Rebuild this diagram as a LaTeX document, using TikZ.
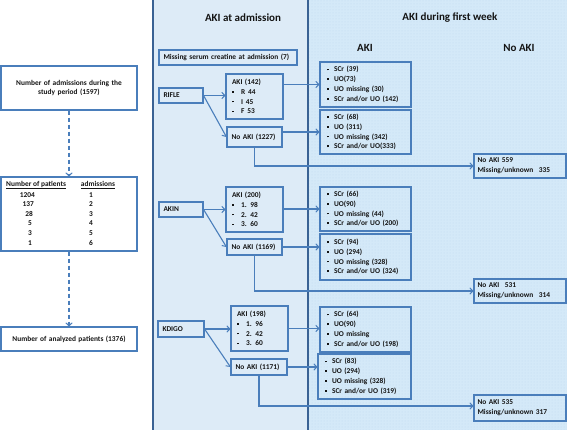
\documentclass[tikz,border=0pt]{standalone}
\usepackage{fontspec}
\setmainfont{Carlito}
\usetikzlibrary{arrows.meta,patterns}
\definecolor{bc}{RGB}{74,126,187}
\definecolor{pl}{RGB}{58,98,148}
\definecolor{lp}{RGB}{221,235,247}
\definecolor{rp}{RGB}{212,233,248}
\definecolor{dotc}{RGB}{192,220,240}
\definecolor{tx}{RGB}{20,20,20}
\newcommand{\mybul}{\makebox[7pt][l]{\rule[1.7pt]{1.7pt}{1.7pt}}}
\newcommand{\mybulb}{\makebox[9pt][l]{\rule[1.7pt]{1.7pt}{1.7pt}}}
\begin{document}
\begin{tikzpicture}[x=1pt,y=-1pt,
  box/.style={draw=bc, line width=1.1pt, inner xsep=6pt, inner ysep=0pt, align=left,
    font=\bfseries\fontsize{7.4}{9.8}\selectfont, text=tx},
  sbox/.style={box, inner xsep=4.5pt},
  rbox/.style={box, inner xsep=7pt, text width=77pt, minimum height=45pt},
  nbox/.style={box, inner xsep=3.5pt, text width=85pt, minimum height=24pt},
  txt/.style={inner sep=0pt, font=\bfseries\fontsize{7.4}{9.8}\selectfont, text=tx},
  ttl/.style={inner sep=0pt, font=\bfseries\fontsize{11}{13}\selectfont, text=tx},
  conn/.style={draw=bc, line width=1.1pt, -{Straight Barb[length=3pt,width=6.5pt,line width=1pt]}},
  dconn/.style={conn, dash pattern=on 4pt off 3pt}
]
\useasboundingbox (0,0) rectangle (567,430);
\begin{scope}
  \clip (0,0) rectangle (567,430);
  \fill[lp] (153,-5) rectangle (308,435);
  \fill[rp] (308,-5) rectangle (575,435);
  \fill[pattern=dots, pattern color=dotc] (308,-5) rectangle (575,435);
  \draw[pl, line width=1.2pt] (153,-5) -- (153,435);
  \draw[pl, line width=1.2pt] (308,-5) -- (308,435);
\end{scope}

% left column
\node[box, align=center, text width=126pt, minimum height=44pt, inner xsep=5pt] (adm) at (69,88)
  {Number of admissions during the\\study period (1597)};
\node[box, minimum width=136pt, minimum height=74pt] (tab) at (69,214) {};
\node[txt, anchor=west] (th1) at (6,185) {\underline{Number of patients}};
\node[txt] (th2) at (98,185) {\underline{admissions}};
\node[txt, anchor=east] (a1) at (35,195) {1204};
\node[txt, anchor=east] (a2) at (34,204) {137};
\node[txt, anchor=east] (a3) at (33,214) {28};
\node[txt, anchor=east] (a4) at (32,223.5) {5};
\node[txt, anchor=east] (a5) at (32,233.5) {3};
\node[txt, anchor=east] (a6) at (32,243) {1};
\node[txt] (b1) at (91,195) {1};
\node[txt] (b2) at (91,204) {2};
\node[txt] (b3) at (91,214) {3};
\node[txt] (b4) at (91,223.5) {4};
\node[txt] (b5) at (91,233.5) {5};
\node[txt] (b6) at (91,243) {6};
\node[box, align=center, text width=126pt, minimum height=24pt, inner xsep=5pt] (ana) at (69,339)
  {Number of analyzed patients (1376)};
\draw[dconn] (adm.south) -- (tab.north);
\draw[dconn] (tab.south) -- (ana.north);

% titles
\node[ttl] (t1) at (243,18) {AKI at admission};
\node[ttl] (t2) at (450,18) {AKI during first week};
\node[ttl] (s1) at (365,48) {AKI};
\node[ttl] (s2) at (519,48) {No AKI};

% admission panel
\node[sbox, text width=129pt, minimum height=15pt] (miss) at (228,57.5) {\mbox{Missing serum creatine at admission (7)}};

\node[sbox, text width=35pt, minimum height=15pt] (rifle) at (181,95.5) {\mbox{RIFLE}};
\node[box, text width=45pt, minimum height=45pt] (aki1) at (254.5,96.5)
  {AKI (142)\\\mybulb R\hspace{3pt}44\\\mybulb I\hspace{3pt}45\\\mybulb F\hspace{3pt}53};
\node[sbox, text width=46pt, minimum height=20pt] (noaki1) at (254.5,137) {\mbox{No AKI (1227)}};

\node[sbox, text width=35pt, minimum height=15pt] (akin) at (181,209.5) {\mbox{AKIN}};
\node[box, text width=45pt, minimum height=45pt] (aki2) at (254.5,209.5)
  {AKI (200)\\\mybulb 1. 98\\\mybulb 2. 42\\\mybulb 3. 60};
\node[sbox, text width=46pt, minimum height=16pt] (noaki2) at (254.5,247) {\mbox{No AKI (1169)}};

\node[sbox, text width=37pt, minimum height=16pt] (kdigo) at (181,329) {\mbox{KDIGO}};
\node[box, text width=45pt, minimum height=45pt] (aki3) at (259.5,328.5)
  {AKI (198)\\\mybulb 1. 96\\\mybulb 2. 42\\\mybulb 3. 60};
\node[sbox, text width=47pt, minimum height=16pt] (noaki3) at (259,367) {\mbox{No AKI (1171)}};

% first week panel
\node[rbox] (r1) at (365.5,84.5)
  {\mybul SCr (39)\\\mybul UO(73)\\\mybul UO missing (30)\\\mybul SCr and/or UO (142)};
\node[rbox, minimum height=44pt] (r2) at (365.5,132)
  {\mybul SCr (68)\\\mybul UO (311)\\\mybul UO missing (342)\\\mybul SCr and/or UO(333)};
\node[nbox] (n1) at (520,166) {No AKI 559\\Missing/unknown\hspace{3pt} 335};

\node[rbox, minimum height=44pt] (r3) at (365.5,209)
  {\mybul SCr (66)\\\mybul UO(90)\\\mybul UO missing (44)\\\mybul SCr and/or UO (200)};
\node[rbox, minimum height=46pt] (r4) at (365.5,257)
  {\mybul SCr (94)\\\mybul UO (294)\\\mybul UO missing (328)\\\mybul SCr and/or UO (324)};
\node[nbox] (n2) at (520,291) {No AKI\hspace{3pt} 531\\Missing/unknown\hspace{3pt} 314};

\node[rbox] (r5) at (365.5,329.5)
  {\mybul SCr (64)\\\mybul UO(90)\\\mybul UO missing\\\mybul SCr and/or UO (198)};
\node[rbox, text width=79pt] (r6) at (364.5,376.5)
  {\mybul SCr (83)\\\mybul UO (294)\\\mybul UO missing (328)\\\mybul SCr and/or UO (319)};
\node[nbox, minimum height=26pt] (n3) at (520,408) {No AKI 535\\Missing/unknown 317};

% connectors
\draw[conn] (rifle.east) -- (rifle.east -| aki1.west);
\draw[conn] (rifle.east) -- (noaki1.west);
\draw[conn] (aki1.east |- r1.west) -- (r1.west);
\draw[conn] (noaki1.east |- r2.west) -- (r2.west);
\draw[conn] (noaki1.south) |- (n1.west);

\draw[conn] (akin.east) -- (akin.east -| aki2.west);
\draw[conn] (akin.east) -- (noaki2.west);
\draw[conn] (aki2.east |- r3.west) -- (r3.west);
\draw[conn] (noaki2.east) -- (noaki2.east -| r4.west);
\draw[conn] (noaki2.south) |- (n2.west);

\draw[conn] (kdigo.east) -- (kdigo.east -| aki3.west);
\draw[conn] (kdigo.east) -- (noaki3.west);
\draw[conn] (aki3.east) -- (aki3.east -| r5.west);
\draw[conn] (noaki3.east) -- (noaki3.east -| r6.west);
\draw[conn] (noaki3.south) |- ([yshift=2pt]n3.west);
\end{tikzpicture}
\end{document}
